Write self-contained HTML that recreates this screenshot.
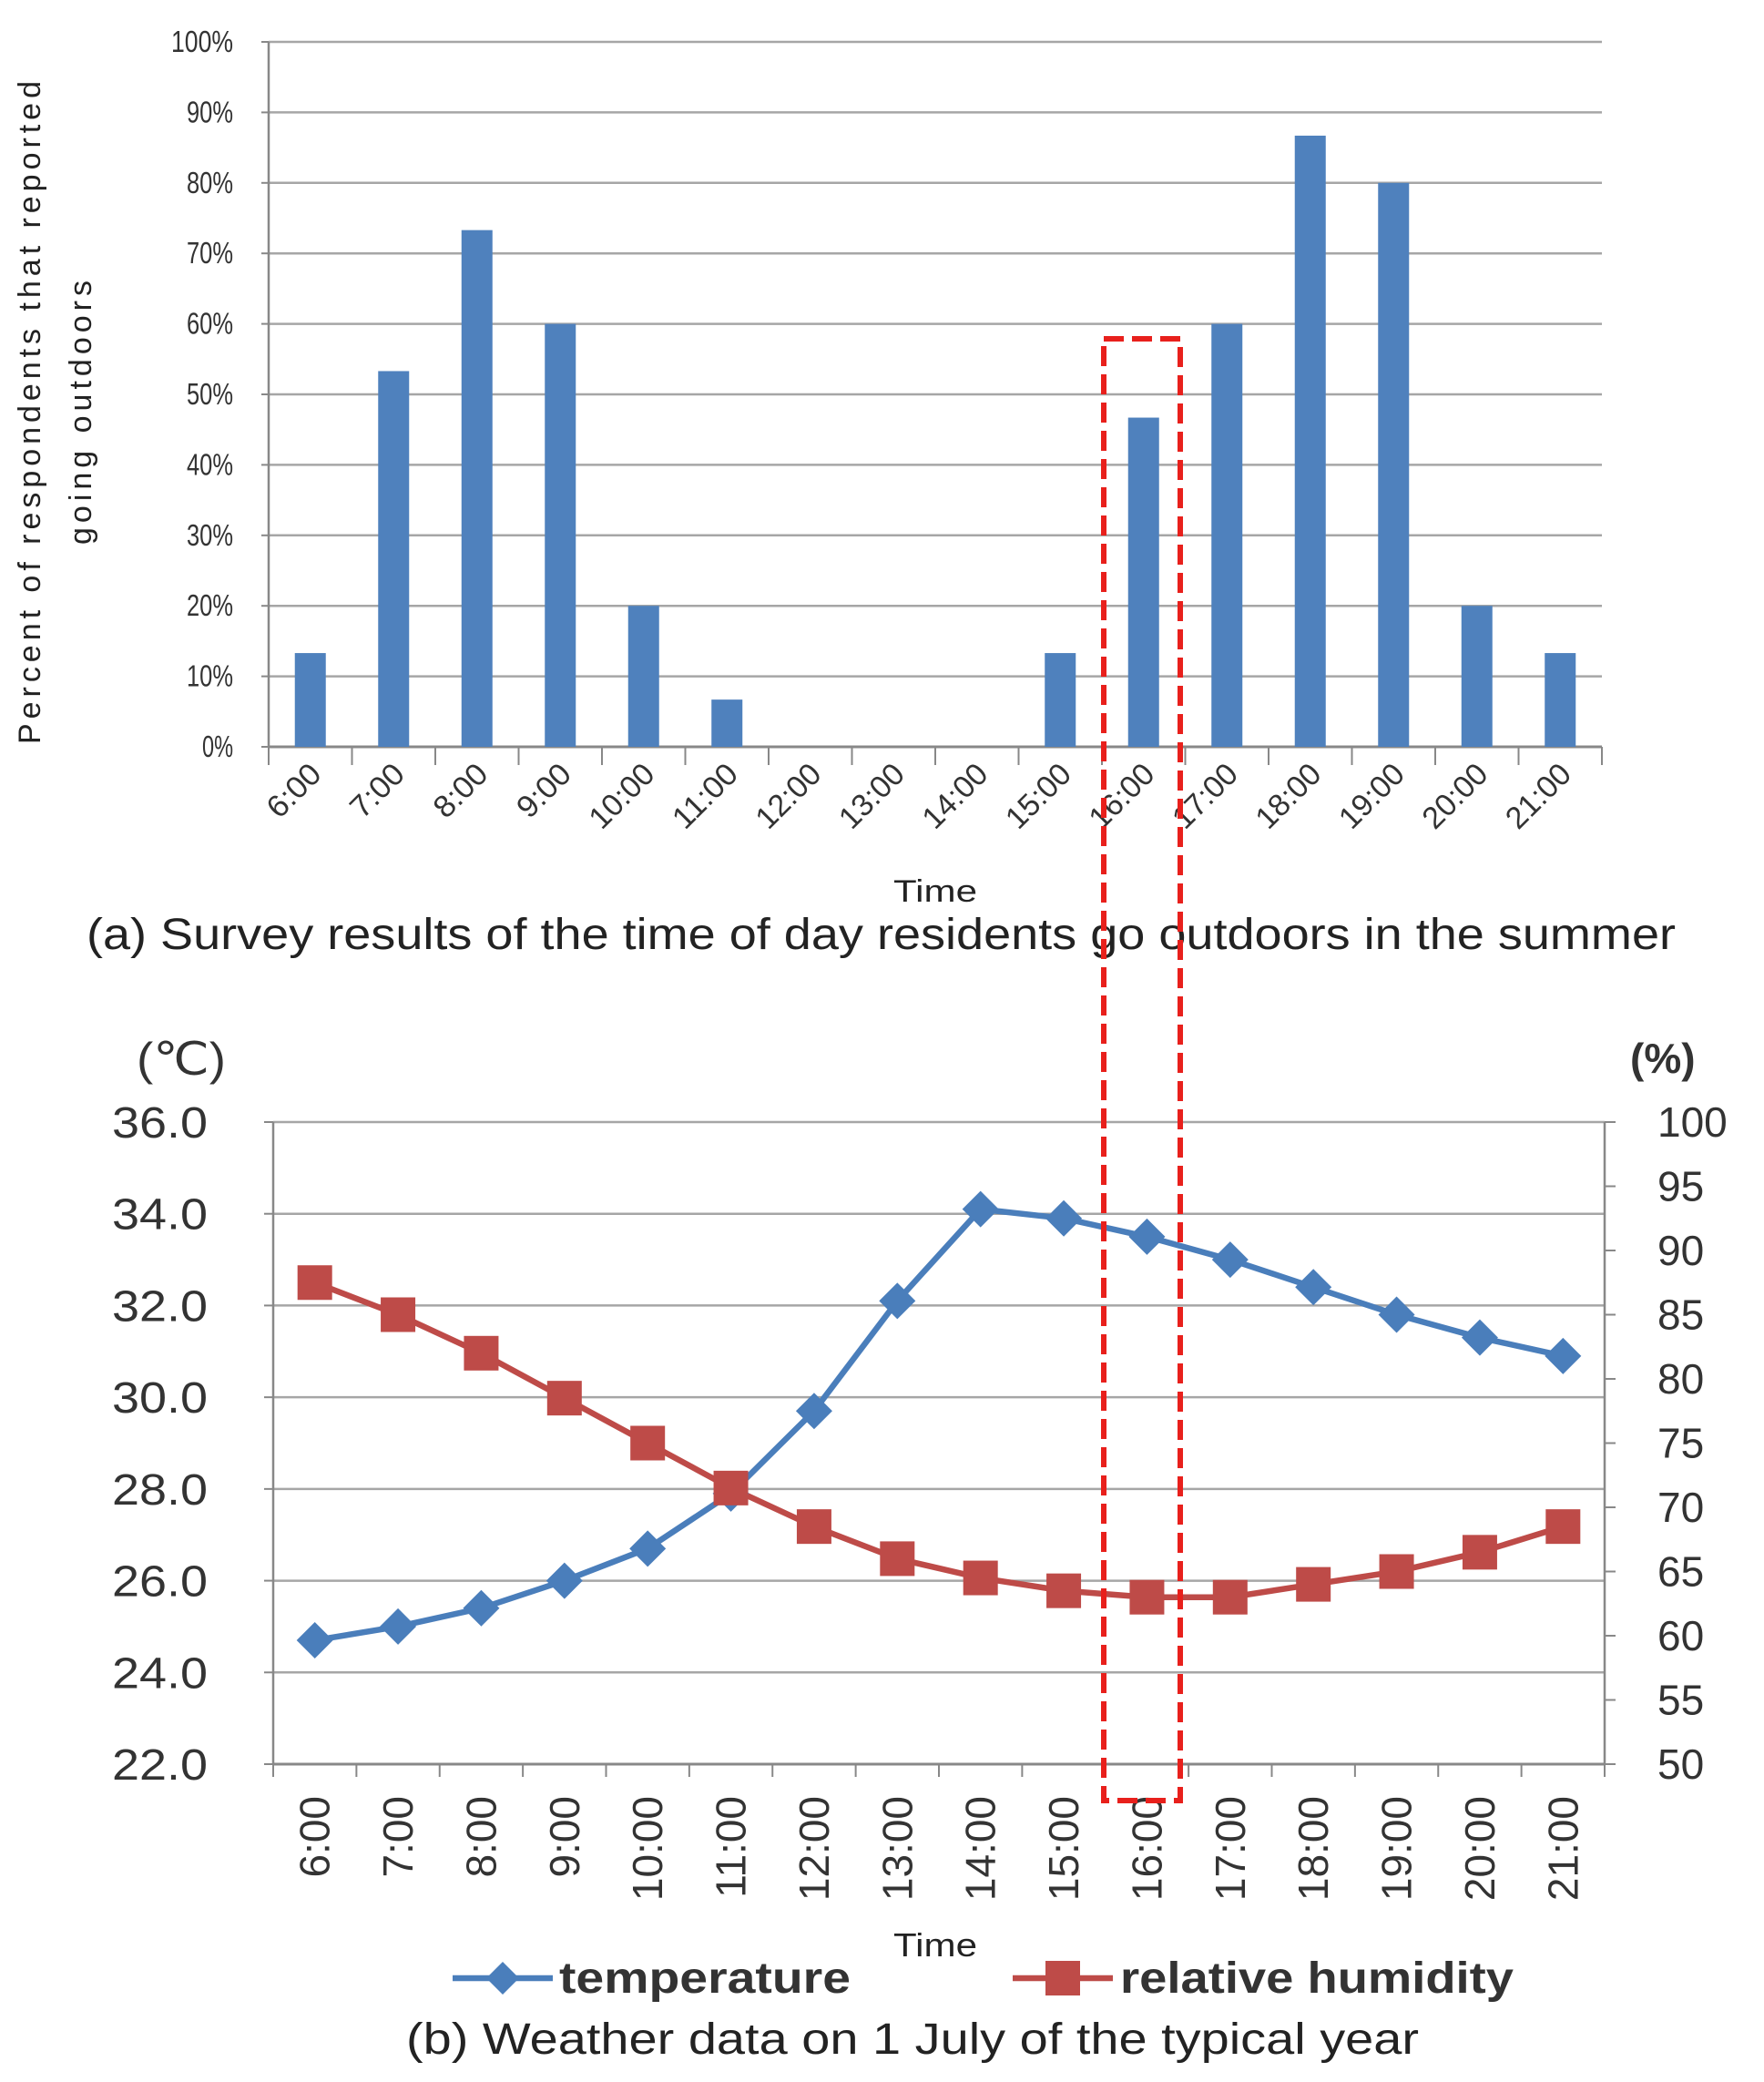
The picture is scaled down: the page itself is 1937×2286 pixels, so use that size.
<!DOCTYPE html>
<html><head><meta charset="utf-8"><style>
html,body{margin:0;padding:0;background:#fff}
svg{display:block}
text{font-family:"Liberation Sans",sans-serif}
</style></head><body>
<svg id="chart" width="1937" height="2286" viewBox="0 0 1937 2286" xmlns="http://www.w3.org/2000/svg"></svg>
<script>
const categories=["6:00","7:00","8:00","9:00","10:00","11:00","12:00","13:00","14:00","15:00","16:00","17:00","18:00","19:00","20:00","21:00"];
const surveyPct=[13.3,53.3,73.3,60,20,6.7,0,0,0,13.3,46.7,60,86.7,80,20,13.3];
const pctTicks=[0,10,20,30,40,50,60,70,80,90,100];
const temperature=[24.7,25.0,25.4,26.0,26.7,27.9,29.7,32.1,34.1,33.9,33.5,33.0,32.4,31.8,31.3,30.9];
const humidity=[87.5,85,82,78.5,75,71.5,68.5,66,64.5,63.5,63,63,64,65,66.5,68.5];
const tempTicks=[22,24,26,28,30,32,34,36];
const humTicks=[50,55,60,65,70,75,80,85,90,95,100];

const NS="http://www.w3.org/2000/svg";
const svg=document.getElementById('chart');
function mk(tag,attrs,parent,txt){const e=document.createElementNS(NS,tag);for(const k in attrs)e.setAttribute(k,attrs[k]);if(txt!==undefined)e.textContent=txt;(parent||svg).appendChild(e);return e;}

// ---- chart A ----
const A={l:295,r:1759,t:46,b:820};
const ax=i=>A.l+(i+0.5)*(A.r-A.l)/categories.length;
const ay=v=>A.b-(v/100)*(A.b-A.t);
const gA=mk('g',{});


pctTicks.forEach(v=>{
  if(v>0){const gl=mk('line',{x1:A.l,x2:A.r,y1:ay(v),y2:ay(v),stroke:'#a6a6a6','stroke-width':2.5},gA);
  }
  const s=v+'%';
  const t=mk('text',{x:256,y:ay(v)+11,'text-anchor':'end','font-size':33,fill:'#333',textLength:s.length*17,lengthAdjust:'spacingAndGlyphs'},gA,s);
  
  mk('line',{x1:A.l-8,x2:A.l,y1:ay(v),y2:ay(v),stroke:'#888','stroke-width':2},gA);
});
mk('line',{x1:A.l,x2:A.l,y1:A.t,y2:A.b,stroke:'#888','stroke-width':2.5},gA);
mk('line',{x1:A.l,x2:A.r,y1:A.b,y2:A.b,stroke:'#888','stroke-width':3},gA);
surveyPct.forEach((v,i)=>{
  const b=mk('rect',{x:ax(i)-17,y:ay(v),width:34,height:A.b-ay(v),fill:'#4f81bd'},gA);
  
  
});
categories.forEach((c,i)=>{
  const x0=A.l+i*(A.r-A.l)/categories.length;
  mk('line',{x1:x0,x2:x0,y1:A.b,y2:A.b+20,stroke:'#888','stroke-width':2},gA);
  const cx=ax(i)+14,cy=852;
  const t=mk('text',{x:cx,y:cy,'text-anchor':'end','font-size':34,fill:'#333',transform:`rotate(-45 ${cx} ${cy})`,textLength:c.length*17,lengthAdjust:'spacingAndGlyphs'},gA,c);
  
});
mk('line',{x1:A.r,x2:A.r,y1:A.b,y2:A.b+20,stroke:'#888','stroke-width':2},gA);
let t;
t=mk('text',{x:44,y:453,'text-anchor':'middle','font-size':34,fill:'#222',textLength:728,lengthAdjust:'spacing',transform:'rotate(-90 44 453)'},gA,'Percent of respondents that reported');

t=mk('text',{x:100,y:453,'text-anchor':'middle','font-size':34,fill:'#222',textLength:290,lengthAdjust:'spacing',transform:'rotate(-90 100 453)'},gA,'going outdoors');

t=mk('text',{x:1027,y:990,'text-anchor':'middle','font-size':34,fill:'#222',textLength:92,lengthAdjust:'spacingAndGlyphs'},gA,'Time');

t=mk('text',{x:95,y:1042,'font-size':48,fill:'#222',textLength:1745,lengthAdjust:'spacingAndGlyphs'},gA,'(a) Survey results of the time of day residents go outdoors in the summer');


// ---- chart B ----
const B={l:300,r:1762,t:1232,b:1937};
const bx=i=>B.l+(i+0.5)*(B.r-B.l)/categories.length;
const by=v=>B.b-((v-22)/14)*(B.b-B.t);
const by2=v=>B.b-((v-50)/50)*(B.b-B.t);
const gB=mk('g',{});


tempTicks.forEach(v=>{
  if(v>22){const gl=mk('line',{x1:B.l,x2:B.r,y1:by(v),y2:by(v),stroke:'#a6a6a6','stroke-width':2.5},gB);
  }
  mk('line',{x1:B.l-10,x2:B.l,y1:by(v),y2:by(v),stroke:'#888','stroke-width':2},gB);
  const tt=mk('text',{x:228,y:by(v)+17,'text-anchor':'end','font-size':48,fill:'#333',textLength:105,lengthAdjust:'spacingAndGlyphs'},gB,v.toFixed(1));
  
});
humTicks.forEach(v=>{
  mk('line',{x1:B.r,x2:B.r+12,y1:by2(v),y2:by2(v),stroke:'#888','stroke-width':2},gB);
  const tt=mk('text',{x:1820,y:by2(v)+16,'font-size':46,fill:'#333'},gB,String(v));
  
});
mk('line',{x1:B.l,x2:B.l,y1:B.t,y2:B.b,stroke:'#888','stroke-width':2.5},gB);
mk('line',{x1:B.r,x2:B.r,y1:B.t,y2:B.b,stroke:'#888','stroke-width':2.5},gB);
mk('line',{x1:B.l,x2:B.r,y1:B.b,y2:B.b,stroke:'#888','stroke-width':3},gB);
categories.forEach((c,i)=>{
  const x0=B.l+i*(B.r-B.l)/categories.length;
  mk('line',{x1:x0,x2:x0,y1:B.b,y2:B.b+14,stroke:'#888','stroke-width':2},gB);
  const cx=bx(i)+16,cy=1972;
  const tt=mk('text',{x:cx,y:cy,'text-anchor':'end','font-size':46,fill:'#333',transform:`rotate(-90 ${cx} ${cy})`},gB,c);
  
});
mk('line',{x1:B.r,x2:B.r,y1:B.b,y2:B.b+14,stroke:'#888','stroke-width':2},gB);
// series
const tp=temperature.map((v,i)=>bx(i)+','+by(v)).join(' ');
const tl=mk('polyline',{points:tp,fill:'none',stroke:'#4a7ebb','stroke-width':6.5},gB);

const hp=humidity.map((v,i)=>bx(i)+','+by2(v)).join(' ');
const hl=mk('polyline',{points:hp,fill:'none',stroke:'#be4b48','stroke-width':6.5},gB);

temperature.forEach((v,i)=>{
  const x=bx(i),y=by(v);
  const m=mk('polygon',{points:`${x},${y-20} ${x+20},${y} ${x},${y+20} ${x-20},${y}`,fill:'#4a7ebb'},gB);
  
});
humidity.forEach((v,i)=>{
  const x=bx(i),y=by2(v);
  const m=mk('rect',{x:x-19,y:y-19,width:38,height:38,fill:'#be4b48'},gB);
  
});
t=mk('text',{x:150,y:1180,'font-size':50,fill:'#333',textLength:98,lengthAdjust:'spacingAndGlyphs'},gB,'(℃)');

t=mk('text',{x:1790,y:1178,'font-size':46,'font-weight':'bold',fill:'#333'},gB,'(%)');

t=mk('text',{x:1027,y:2148,'text-anchor':'middle','font-size':36,fill:'#222',textLength:92,lengthAdjust:'spacingAndGlyphs'},gB,'Time');

// legend
const lg=mk('g',{},gB);

mk('line',{x1:497,x2:607,y1:2172,y2:2172,stroke:'#4a7ebb','stroke-width':6.5},lg);
mk('polygon',{points:'552,2154 570,2172 552,2190 534,2172',fill:'#4a7ebb'},lg);
t=mk('text',{x:614,y:2188,'font-size':48,'font-weight':'bold',fill:'#333',textLength:320,lengthAdjust:'spacingAndGlyphs'},lg,'temperature');

mk('line',{x1:1112,x2:1222,y1:2172,y2:2172,stroke:'#be4b48','stroke-width':6.5},lg);
mk('rect',{x:1148,y:2153,width:38,height:38,fill:'#be4b48'},lg);
t=mk('text',{x:1230,y:2188,'font-size':48,'font-weight':'bold',fill:'#333',textLength:432,lengthAdjust:'spacingAndGlyphs'},lg,'relative humidity');

t=mk('text',{x:446,y:2255,'font-size':48,fill:'#222',textLength:1112,lengthAdjust:'spacingAndGlyphs'},gB,'(b)   Weather data on 1 July of the typical year');


// red dashed highlight
const hr=mk('rect',{x:1212,y:372,width:84,height:1605,fill:'none',stroke:'#e8201c','stroke-width':6,'stroke-dasharray':'22 9'});


</script>
</body></html>
